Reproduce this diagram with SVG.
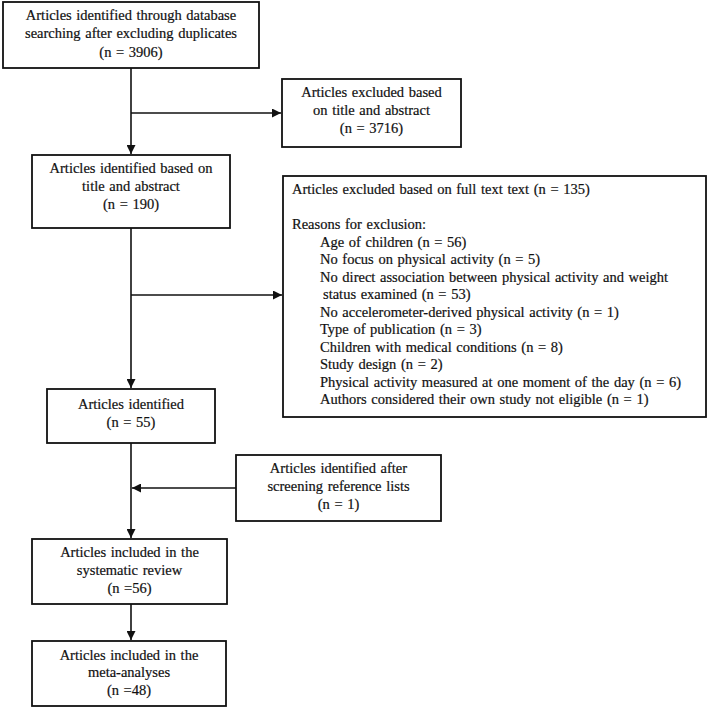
<svg xmlns="http://www.w3.org/2000/svg" width="709" height="708" viewBox="0 0 709 708">
<defs>
<marker id="arr" viewBox="0 0 10 10" refX="10" refY="5" markerWidth="9" markerHeight="9" markerUnits="userSpaceOnUse" orient="auto">
<path d="M0,0 L10,5 L0,10 z" fill="#111"/>
</marker>
</defs>
<style>
rect.box { fill: #fff; stroke: #111; stroke-width: 1.8; }
text { font-family: "Liberation Serif", "Times New Roman", serif; font-size: 14.5px; fill: #111; stroke: #111; stroke-width: 0.2; word-spacing: 1px; }
text.c { text-anchor: middle; }
.conn line, .conn path { stroke: #111; stroke-width: 1.6; fill: none; }
</style>
<rect width="709" height="708" fill="#fff"/>

<g class="conn">
<line x1="131" y1="68" x2="131" y2="154" marker-end="url(#arr)"/>
<line x1="131" y1="113" x2="281" y2="113" marker-end="url(#arr)"/>
<line x1="131" y1="228" x2="131" y2="388" marker-end="url(#arr)"/>
<line x1="131" y1="295" x2="282" y2="295" marker-end="url(#arr)"/>
<line x1="131" y1="443" x2="131" y2="538" marker-end="url(#arr)"/>
<line x1="236" y1="488" x2="132" y2="488" marker-end="url(#arr)"/>
<line x1="131" y1="604" x2="131" y2="640" marker-end="url(#arr)"/>
</g>

<g id="n1">
<rect class="box" x="3" y="2" width="256" height="66"/>
<text class="c" x="131" y="20">Articles identified through database</text>
<text class="c" x="131" y="38">searching after excluding duplicates</text>
<text class="c" x="131" y="57">(n = 3906)</text>
</g>

<g id="n2">
<rect class="box" x="282" y="79" width="179" height="68"/>
<text class="c" x="371.5" y="97">Articles excluded based</text>
<text class="c" x="371.5" y="115">on title and abstract</text>
<text class="c" x="371.5" y="133">(n = 3716)</text>
</g>

<g id="n3">
<rect class="box" x="32" y="155" width="198" height="73"/>
<text class="c" x="131" y="173">Articles identified based on</text>
<text class="c" x="131" y="191">title and abstract</text>
<text class="c" x="131" y="209">(n = 190)</text>
</g>

<g id="n4">
<rect class="box" x="283" y="176" width="423" height="241"/>
<text x="292" y="194">Articles excluded based on full text text (n = 135)</text>
<text x="292" y="229">Reasons for exclusion:</text>
<text x="320" y="246.5">Age of children (n = 56)</text>
<text x="320" y="264">No focus on physical activity (n = 5)</text>
<text x="320" y="281.5">No direct association between physical activity and weight</text>
<text x="323" y="299">status examined (n = 53)</text>
<text x="320" y="316.5">No accelerometer-derived physical activity (n = 1)</text>
<text x="320" y="334">Type of publication (n = 3)</text>
<text x="320" y="351.5">Children with medical conditions (n = 8)</text>
<text x="320" y="369">Study design (n = 2)</text>
<text x="320" y="386.5">Physical activity measured at one moment of the day (n = 6)</text>
<text x="320" y="404">Authors considered their own study not eligible (n = 1)</text>
</g>

<g id="n5">
<rect class="box" x="47" y="389" width="168" height="54"/>
<text class="c" x="131" y="409">Articles identified</text>
<text class="c" x="131" y="427">(n = 55)</text>
</g>

<g id="n6">
<rect class="box" x="236" y="455" width="205" height="66"/>
<text class="c" x="338.5" y="473">Articles identified after</text>
<text class="c" x="338.5" y="491">screening reference lists</text>
<text class="c" x="338.5" y="509">(n = 1)</text>
</g>

<g id="n7">
<rect class="box" x="32" y="539" width="195" height="65"/>
<text class="c" x="129.5" y="557">Articles included in the</text>
<text class="c" x="129.5" y="575">systematic review</text>
<text class="c" x="129.5" y="593">(n =56)</text>
</g>

<g id="n8">
<rect class="box" x="32" y="641" width="194" height="65"/>
<text class="c" x="129" y="660">Articles included in the</text>
<text class="c" x="129" y="677">meta-analyses</text>
<text class="c" x="129" y="695">(n =48)</text>
</g>
</svg>
